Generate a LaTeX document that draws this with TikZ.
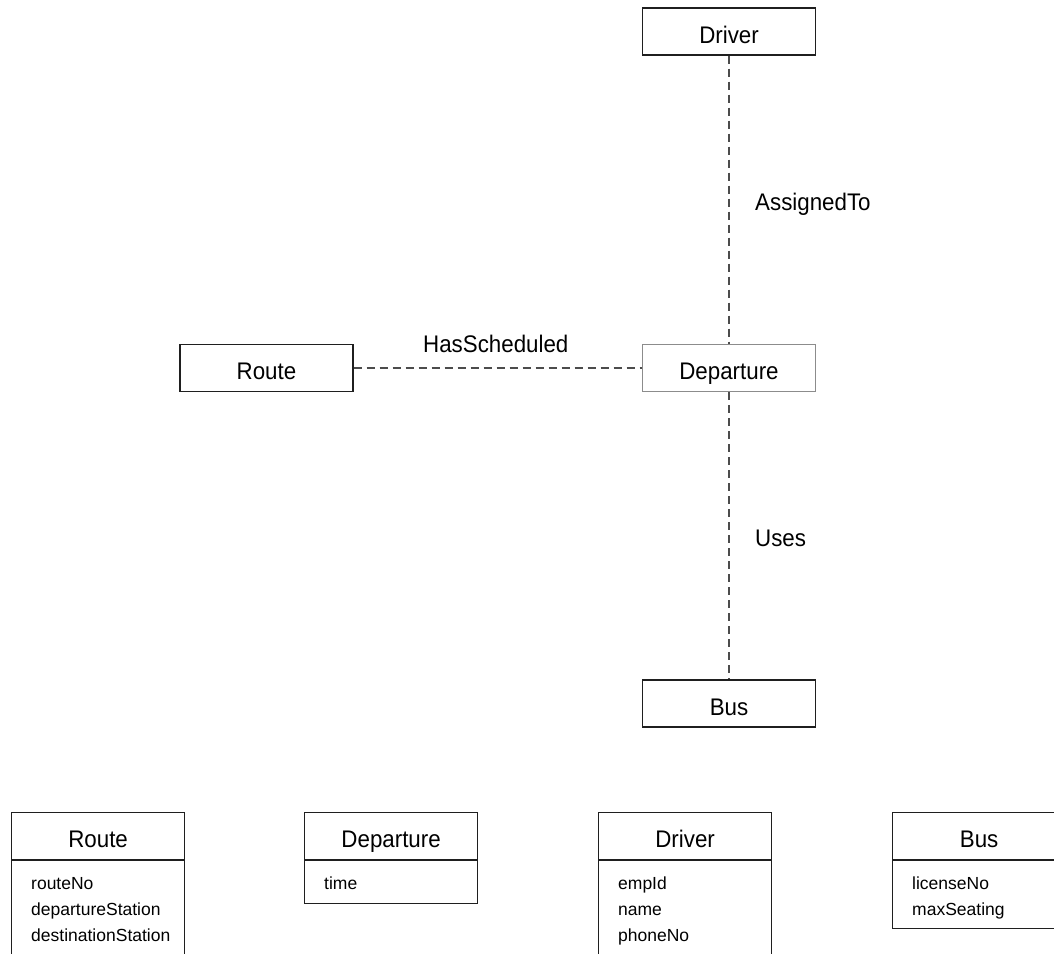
\documentclass[tikz,border=0pt]{standalone}
\usepackage{fontspec}
\setmainfont{Liberation Sans}
\newfontfamily\narrowsans{Liberation Sans}[FakeStretch=0.93]
\begin{document}
\begin{tikzpicture}[x=1pt,y=-1pt,
  titlefont/.style={font=\narrowsans\fontsize{24}{28}\selectfont},
  entity/.style={draw=black!88, line width=1.2pt, minimum width=173pt,
    minimum height=47pt, inner sep=0pt, text height=23pt, text depth=0pt,
    titlefont},
  classhead/.style={entity, anchor=north west},
  classbody/.style={draw=black!88, line width=1.2pt, anchor=north west,
    minimum width=173pt, inner sep=0pt},
  attrs/.style={font=\fontsize{17.5}{26}\selectfont, align=left,
    inner sep=0pt, anchor=base west},
  link/.style={draw=black!70, line width=1.2pt, dash pattern=on 8pt off 5pt},
  lbl/.style={titlefont, inner sep=0pt, anchor=base west},
]
\clip (0,0) rectangle (1054,953);
\useasboundingbox (0,0) rectangle (1054,953);

% relationship diagram
\node[entity] (driver) at (729,31.5) {Driver};
\node[entity] (route) at (266.5,368) {Route};
\node[entity, draw=black!45] (departure) at (729,368) {Departure};
\node[entity] (bus) at (729,703.5) {Bus};

\draw[link] (route) -- (departure);
\draw[link] (driver) -- (departure);
\draw[link] (departure) -- (bus);

\node[lbl] (assigned) at (755,210) {AssignedTo};
\node[lbl] (scheduled) at (423,352) {HasScheduled};
\node[lbl] (uses) at (755,546) {Uses};

% class boxes with attributes (base anchor sits on the last line)
\node[classhead] (routeHead) at (11,812) {Route};
\node[classbody, minimum height=96pt] (routeBody) at (routeHead.south west) {};
\node[attrs] (routeAttrs) at (31,941) {routeNo\\departureStation\\destinationStation};

\node[classhead] (depHead) at (304,812) {Departure};
\node[classbody, minimum height=43pt] (depBody) at (depHead.south west) {};
\node[attrs] (depAttrs) at (324,889) {time};

\node[classhead] (driverHead) at (598,812) {Driver};
\node[classbody, minimum height=96pt] (driverBody) at (driverHead.south west) {};
\node[attrs] (driverAttrs) at (618,941) {empId\\name\\phoneNo};

\node[classhead] (busHead) at (892,812) {Bus};
\node[classbody, minimum height=68pt] (busBody) at (busHead.south west) {};
\node[attrs] (busAttrs) at (912,915) {licenseNo\\maxSeating};
\end{tikzpicture}
\end{document}
